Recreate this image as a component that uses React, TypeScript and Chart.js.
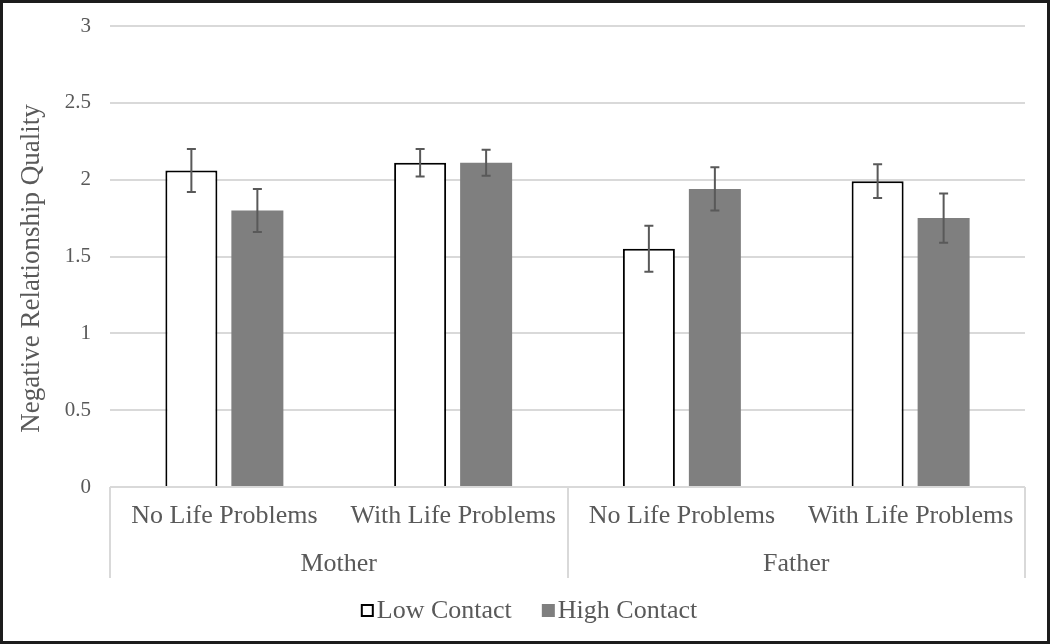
import React, { useEffect, useRef } from "react";
import { Chart, registerables } from "chart.js";

Chart.register(...registerables);

const categories = ["No Life Problems", "With Life Problems", "No Life Problems", "With Life Problems"];
const groups = ["Mother", "Father"];
const groupSizes = [2, 2];
const seriesNames = ["Low Contact", "High Contact"];
const lowContact = [2.06, 2.11, 1.55, 1.99];
const highContact = [1.8, 2.11, 1.94, 1.75];
const lowContactErr = [0.14, 0.09, 0.15, 0.11];
const highContactErr = [0.14, 0.085, 0.14, 0.16];
const yAxisTitle = "Negative Relationship Quality";
const yMin = 0;
const yMax = 3;
const yStep = 0.5;

const FONT = "'Liberation Serif', 'Times New Roman', serif";
const TEXT = "#595959";
const GRID = "#d9d9d9";
const LOW_FILL = "#ffffff";
const LOW_BORDER = "#000000";
const HIGH_FILL = "#7f7f7f";
const ERR = "#595959";

const errorBarPlugin = {
  id: "errorBars",
  afterDatasetsDraw(chart: any) {
    const ctx = chart.ctx;
    const y = chart.scales.y;
    const errs = [lowContactErr, highContactErr];
    chart.data.datasets.forEach((ds: any, di: number) => {
      const meta = chart.getDatasetMeta(di);
      meta.data.forEach((el: any, i: number) => {
        const v = ds.data[i];
        const e = errs[di][i];
        const top = y.getPixelForValue(v + e);
        const bot = y.getPixelForValue(v - e);
        const cap = 4.5;
        ctx.save();
        ctx.strokeStyle = ERR;
        ctx.lineWidth = 2;
        ctx.beginPath();
        ctx.moveTo(el.x, top);
        ctx.lineTo(el.x, bot);
        ctx.moveTo(el.x - cap, top);
        ctx.lineTo(el.x + cap, top);
        ctx.moveTo(el.x - cap, bot);
        ctx.lineTo(el.x + cap, bot);
        ctx.stroke();
        ctx.restore();
      });
    });
  },
};

const decorPlugin = {
  id: "decor",
  afterDraw(chart: any) {
    const ctx = chart.ctx;
    const x = chart.scales.x;
    const area = chart.chartArea;
    ctx.save();
    // group separators
    ctx.strokeStyle = GRID;
    ctx.lineWidth = 2;
    let start = 0;
    const bounds: number[] = [-0.5];
    groupSizes.forEach((n) => {
      start += n;
      bounds.push(start - 0.5);
    });
    ctx.beginPath();
    bounds.forEach((b) => {
      const px = Math.round(x.getPixelForValue(b));
      ctx.moveTo(px, area.bottom);
      ctx.lineTo(px, area.bottom + 91);
    });
    ctx.stroke();

    // group labels
    ctx.fillStyle = TEXT;
    ctx.font = `26px ${FONT}`;
    ctx.textAlign = "center";
    ctx.textBaseline = "alphabetic";
    let s = 0;
    groups.forEach((g, gi) => {
      const n = groupSizes[gi];
      const cx = x.getPixelForValue(s + (n - 1) / 2);
      ctx.fillText(g, cx, area.bottom + 84);
      s += n;
    });

    // y-axis title
    ctx.save();
    ctx.font = `27px ${FONT}`;
    ctx.translate(29, (area.top + area.bottom) / 2 + 12);
    ctx.rotate(-Math.PI / 2);
    ctx.textAlign = "center";
    ctx.textBaseline = "middle";
    ctx.fillText(yAxisTitle, 0, 0);
    ctx.restore();

    // legend
    const box = 13;
    const gap = 3;
    const spacing = 30;
    const widths = seriesNames.map((n) => ctx.measureText(n).width);
    const total = widths.reduce((a, w) => a + box + gap + w, 0) + spacing * (seriesNames.length - 1);
    let lx = chart.width / 2 + 4 - total / 2;
    const baseY = area.bottom + 131;
    const boxTop = area.bottom + 117;
    ctx.textAlign = "left";
    seriesNames.forEach((n, i) => {
      if (i === 0) {
        ctx.fillStyle = LOW_FILL;
        ctx.fillRect(lx, boxTop, box, box);
        ctx.strokeStyle = LOW_BORDER;
        ctx.lineWidth = 2;
        ctx.strokeRect(lx + 1, boxTop + 1, box - 2, box - 2);
      } else {
        ctx.fillStyle = HIGH_FILL;
        ctx.fillRect(lx, boxTop, box, box);
      }
      ctx.fillStyle = TEXT;
      ctx.fillText(n, lx + box + gap, baseY);
      lx += box + gap + widths[i] + spacing;
    });
    ctx.restore();
  },
};

export default function App() {
  const ref = useRef<HTMLCanvasElement | null>(null);

  useEffect(() => {
    document.body.style.margin = "0";
    if (!ref.current) return;
    const chart = new Chart(ref.current, {
      type: "bar",
      data: {
        labels: categories,
        datasets: [
          {
            label: seriesNames[0],
            data: lowContact,
            backgroundColor: LOW_FILL,
            borderColor: LOW_BORDER,
            borderWidth: 2,
            categoryPercentage: 0.577,
            barPercentage: 0.788,
          },
          {
            label: seriesNames[1],
            data: highContact,
            backgroundColor: HIGH_FILL,
            borderWidth: 0,
            categoryPercentage: 0.577,
            barPercentage: 0.788,
          },
        ],
      },
      options: {
        responsive: false,
        animation: false,
        events: [],
        layout: { padding: { top: 23, right: 22, bottom: 62, left: 0 } },
        plugins: {
          legend: { display: false },
          tooltip: { enabled: false },
          title: { display: false },
        },
        scales: {
          x: {
            grid: { display: false, drawTicks: false },
            border: { display: false },
            ticks: {
              color: TEXT,
              font: { family: FONT, size: 26 },
              padding: 14,
              maxRotation: 0,
              autoSkip: false,
            },
            afterFit: (s: any) => {
              s.height = 92;
              s.paddingLeft = 0;
              s.paddingRight = 0;
            },
          },
          y: {
            min: yMin,
            max: yMax,
            grid: { color: GRID, lineWidth: 2, drawTicks: false },
            border: { display: false },
            ticks: {
              stepSize: yStep,
              color: TEXT,
              font: { family: FONT, size: 21 },
              padding: 19,
              callback: (v: any) => String(v),
            },
            afterFit: (s: any) => {
              s.width = 107;
              s.paddingTop = 0;
              s.paddingBottom = 0;
            },
          },
        },
      },
      plugins: [errorBarPlugin, decorPlugin],
    });
    return () => chart.destroy();
  }, []);

  return (
    <div
      style={{
        width: 1050,
        height: 644,
        border: "3px solid #1c1c1c",
        boxSizing: "border-box",
        background: "#ffffff",
      }}
    >
      <canvas ref={ref} width={1044} height={638} style={{ display: "block" }} />
    </div>
  );
}
